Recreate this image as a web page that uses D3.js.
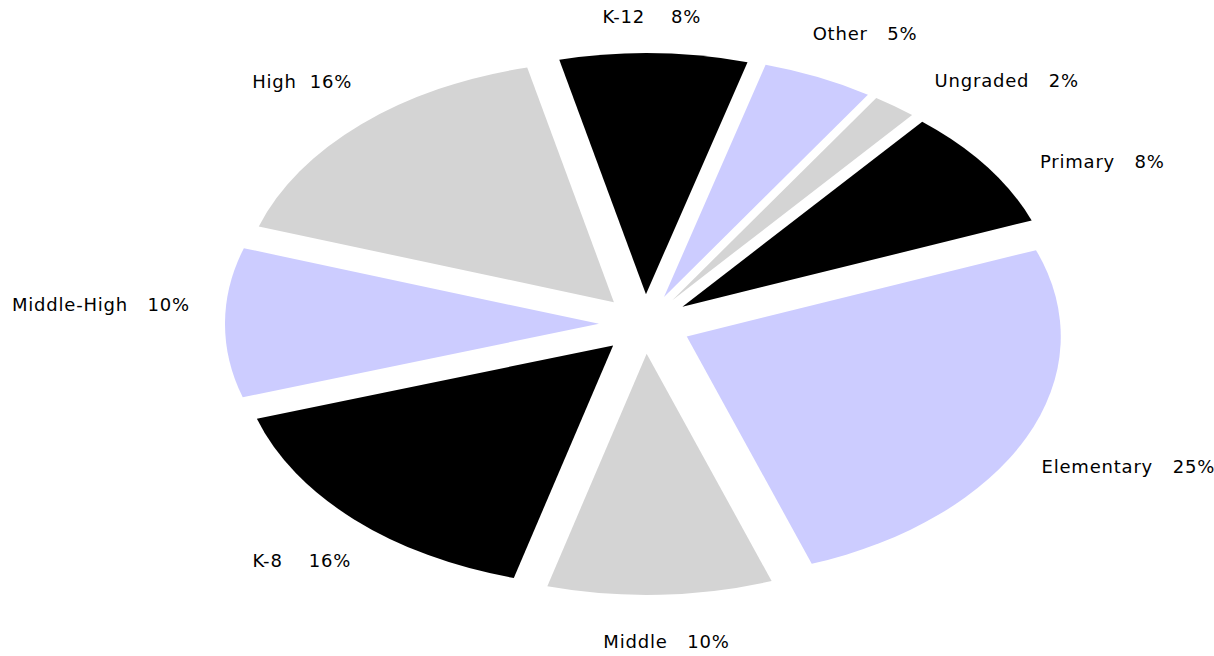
<!DOCTYPE html>
<html><head><meta charset="utf-8">
<script src="https://cdn.jsdelivr.net/npm/d3@7"></script>
<style>
body{margin:0;background:#fff;}
svg text{font-family:"DejaVu Sans",sans-serif;font-size:18px;letter-spacing:0.8px;fill:#000;white-space:pre;}
</style>
</head><body>
<svg id="chart" width="1214" height="656"></svg>
<script>
// ---- data ----
const categories = ["K-12","Other","Ungraded","Primary","Elementary","Middle","K-8","Middle-High","High"];
const values = [8.1,4.8,1.9,8.1,25.4,9.7,15.8,10.0,16.2];
const palette = ["#000000","#ccccff","#d4d4d4"];

// ---- layout ----
const W = 1214, H = 656;
const cx = 645, cy = 324, R = 374, tilt = 0.645, explode = 46;
const startDeg = -13.4;
const Lx = 430, Ly = 310;
const gapSpaces = [4,3,3,3,3,3,4,3,2];
const labelNudge = [[-2,3],[-10,-8],[34,6],[45,18],[6,13],[6,8],[4,13],[-25,-17],[-2,-14]];

const svg = d3.select("#chart");
const total = d3.sum(values);
const start = startDeg * Math.PI / 180;
const pie = d3.pie().sort(null).value(d => d).startAngle(start).endAngle(start + 2*Math.PI);
const arcs = pie(values);
const arcGen = d3.arc().innerRadius(0).outerRadius(R);
const color = d3.scaleOrdinal().domain(categories).range(palette);
const mid = d => (d.startAngle + d.endAngle) / 2;

svg.append("g").selectAll("g").data(arcs).join("g")
  .attr("transform", d => {
    const m = mid(d);
    return `translate(${cx},${cy}) scale(1,${tilt}) translate(${explode*Math.sin(m)},${-explode*Math.cos(m)})`;
  })
  .append("path")
  .attr("d", arcGen)
  .attr("fill", (d,i) => color(categories[i]));

svg.append("g").selectAll("text").data(arcs).join("text")
  .attr("x", (d,i) => cx + Lx*Math.sin(mid(d)) + labelNudge[i][0])
  .attr("y", (d,i) => cy - Ly*Math.cos(mid(d)) + 6 + labelNudge[i][1])
  .attr("text-anchor", d => {
    const s = Math.sin(mid(d));
    return s > 0.3 ? "start" : (s < -0.3 ? "end" : "middle");
  })
  .text((d,i) => categories[i] + " ".repeat(gapSpaces[i]) + Math.round(d.value / total * 100) + "%");
</script>
</body></html>
